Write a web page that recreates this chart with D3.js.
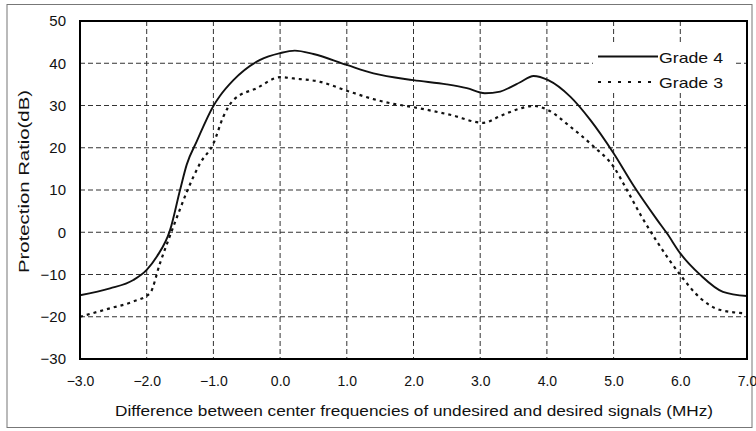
<!DOCTYPE html>
<html><head><meta charset="utf-8">
<script src="https://cdn.jsdelivr.net/npm/d3@7"></script>
<style>body{margin:0;background:#fff}svg{display:block}text{font-family:Arial,"Liberation Sans",sans-serif;fill:#111}</style>
</head><body><svg id="c" width="756" height="431"></svg>
<script>
const xTicks = [-3,-2,-1,0,1,2,3,4,5,6,7];
const yTicks = [-30,-20,-10,0,10,20,30,40,50];
const grade4X = [-3.0,-2.55,-2.2,-2.0,-1.85,-1.65,-1.5,-1.4,-1.25,-1.0,-0.9,-0.7,-0.3,0.0,0.22,0.5,1.0,1.4,2.0,2.5,2.8,3.07,3.3,3.45,3.6,3.8,4.02,4.35,4.65,5.0,5.3,5.65,5.8,6.0,6.3,6.64,7.0];
const grade4Y = [-14.9,-13.3,-11.3,-8.9,-5.8,0.5,10,16,21.5,29.9,32.3,36,40.8,42.4,43,42.2,39.6,37.6,36,35,34.1,32.9,33.3,34.3,35.5,37,36,32.1,26.6,18.7,11,3,-0.25,-5,-10.1,-14.1,-15.1];
const grade3X = [-3.0,-2.55,-2.2,-1.95,-1.8,-1.62,-1.5,-1.4,-1.2,-1.0,-0.85,-0.7,-0.35,0.0,0.2,0.6,1.0,1.4,1.7,2.0,2.55,3.05,3.3,3.6,3.8,4.02,4.35,4.7,5.0,5.2,5.42,5.65,6.0,6.3,6.6,7.0];
const grade3Y = [-20,-18,-16.4,-14.4,-7.3,0.5,5.5,9.5,16.3,21,27.4,31.3,34.1,36.7,36.4,35.6,33.5,31.5,30.4,29.6,27.8,25.9,27.5,29.3,29.9,28.9,25,20.3,15.5,10,3.7,-2.2,-10.1,-15.6,-18.4,-19.2];
const seriesNames = ["Grade 4","Grade 3"];

const svg = d3.select("#c");
const L=80,R=747,T=21,B=359;
const x = d3.scaleLinear().domain([-3,7]).range([L,R]);
const y = d3.scaleLinear().domain([-30,50]).range([B,T]);
const FONT = "Arial, Liberation Sans, sans-serif";

// outer frame
svg.append("rect").attr("x",7).attr("y",4.5).attr("width",745).attr("height",423)
  .attr("fill","none").attr("stroke","#777").attr("stroke-width",1);

// grid
const g = svg.append("g");
g.selectAll(".vg").data(xTicks.slice(1,-1)).join("line")
  .attr("x1",d=>x(d)).attr("x2",d=>x(d)).attr("y1",T).attr("y2",B)
  .attr("stroke","#333").attr("stroke-width",1).attr("stroke-dasharray","5,3");
g.selectAll(".hg").data(yTicks.slice(1,-1)).join("line")
  .attr("x1",L).attr("x2",R).attr("y1",d=>y(d)).attr("y2",d=>y(d))
  .attr("stroke","#333").attr("stroke-width",1).attr("stroke-dasharray","5,3");

// axes labels via d3 axes
const xa = svg.append("g").attr("transform",`translate(0,${B})`)
  .call(d3.axisBottom(x).tickValues(xTicks).tickFormat(d3.format(".1f")).tickSize(0).tickPadding(17));
xa.select(".domain").remove();
xa.selectAll("text").attr("font-size",14).attr("fill","#111").attr("font-family",FONT);
const ya = svg.append("g").attr("transform",`translate(${L},0)`)
  .call(d3.axisLeft(y).tickValues(yTicks).tickSize(0).tickPadding(14));
ya.select(".domain").remove();
ya.selectAll("text").attr("font-size",15).attr("fill","#111").attr("font-family",FONT);

// legend background
svg.append("rect").attr("x",593).attr("y",45).attr("width",142).attr("height",48).attr("fill","#fff");

// lines
const line = d3.line().x(d=>x(d[0])).y(d=>y(d[1])).curve(d3.curveMonotoneX);
const d4 = grade4X.map((v,i)=>[v,grade4Y[i]]);
const d3s = grade3X.map((v,i)=>[v,grade3Y[i]]);
svg.append("path").attr("d",line(d3s)).attr("fill","none").attr("stroke","#111")
  .attr("stroke-width",2.2).attr("stroke-dasharray","3,4");
svg.append("path").attr("d",line(d4)).attr("fill","none").attr("stroke","#111").attr("stroke-width",1.9);

// plot border
svg.append("rect").attr("x",L).attr("y",T).attr("width",R-L).attr("height",B-T)
  .attr("fill","none").attr("stroke","#000").attr("stroke-width",2);

// legend
const leg = [{n:seriesNames[0],dash:null,yy:56.5},{n:seriesNames[1],dash:"3,7",yy:82}];
leg.forEach(l=>{
  svg.append("line").attr("x1",598).attr("x2",658).attr("y1",l.yy).attr("y2",l.yy)
    .attr("stroke","#111").attr("stroke-width",l.dash?2.2:1.9).attr("stroke-dasharray",l.dash);
  svg.append("text").attr("x",659).attr("y",l.yy+6).attr("font-size",15)
    .attr("textLength",64).attr("lengthAdjust","spacingAndGlyphs").text(l.n);
});

// axis titles
svg.append("text").attr("x",(115+713)/2).attr("y",416).attr("text-anchor","middle")
  .attr("font-size",15.5).attr("textLength",598).attr("lengthAdjust","spacingAndGlyphs")
  .text("Difference between center frequencies of undesired and desired signals (MHz)");
svg.append("text").attr("transform","translate(29,181.5) rotate(-90)").attr("text-anchor","middle")
  .attr("font-size",15).attr("textLength",183).attr("lengthAdjust","spacingAndGlyphs")
  .text("Protection Ratio(dB)");
</script></body></html>
